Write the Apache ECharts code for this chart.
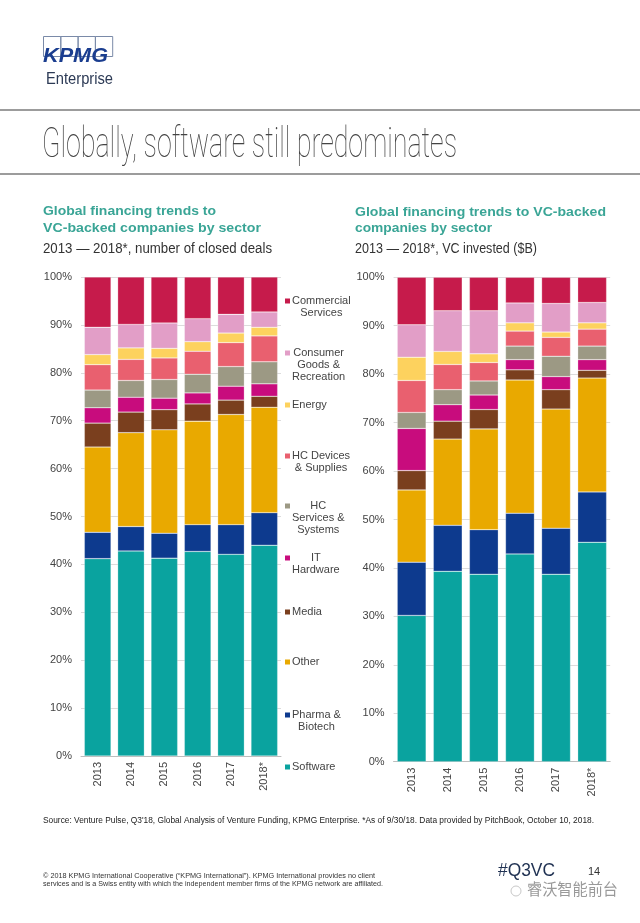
<!DOCTYPE html>
<html><head><meta charset="utf-8">
<script src="https://cdn.jsdelivr.net/npm/echarts@6/dist/echarts.min.js"></script>
<style>html,body{margin:0;padding:0;background:#fff}#c{width:640px;height:923px}</style>
</head><body><div id="c"></div>
<script>
// ---------- DATA ----------
const years = ['2013','2014','2015','2016','2017','2018*'];
const sectors = ['Software','Pharma & Biotech','Other','Media','IT Hardware','HC Services & Systems','HC Devices & Supplies','Energy','Consumer Goods & Recreation','Commercial Services'];
const legendLabels = ['Commercial\nServices','Consumer\nGoods &\nRecreation','Energy','HC Devices\n& Supplies','HC\nServices &\nSystems','IT\nHardware','Media','Other','Pharma &\nBiotech','Software'];
const yTicks = [0,10,20,30,40,50,60,70,80,90,100];
// Deals (% of closed deals), bottom to top
const dealsSoftware   = [41.2, 42.8, 41.3, 42.7, 42.1, 44.0];
const dealsPharma     = [5.5, 5.1, 5.2, 5.6, 6.2, 6.8];
const dealsOther      = [17.8, 19.6, 21.6, 21.6, 23.0, 22.0];
const dealsMedia      = [5.0, 4.3, 4.2, 3.6, 3.0, 2.3];
const dealsIT         = [3.2, 3.1, 2.4, 2.3, 2.9, 2.6];
const dealsHCS        = [3.7, 3.5, 3.9, 3.9, 4.1, 4.6];
const dealsHCD        = [5.3, 4.4, 4.5, 4.8, 5.0, 5.4];
const dealsEnergy     = [2.1, 2.4, 2.0, 2.0, 2.0, 1.8];
const dealsConsumer   = [5.7, 4.9, 5.3, 4.8, 3.9, 3.2];
const dealsCommercial = [10.5, 9.9, 9.6, 8.7, 7.8, 7.3];
// VC invested (% of $B), bottom to top
const vcSoftware   = [30.2, 39.3, 38.7, 42.9, 38.7, 45.3];
const vcPharma     = [11.0, 9.5, 9.2, 8.4, 9.5, 10.4];
const vcOther      = [14.9, 17.8, 20.8, 27.5, 24.6, 23.5];
const vcMedia      = [4.0, 3.7, 4.0, 2.1, 4.0, 1.6];
const vcIT         = [8.7, 3.4, 3.0, 2.1, 2.7, 2.2];
const vcHCS        = [3.3, 3.1, 2.9, 2.8, 4.2, 2.8];
const vcHCD        = [6.6, 5.2, 3.8, 3.1, 3.9, 3.5];
const vcEnergy     = [4.8, 2.7, 1.8, 1.7, 1.1, 1.3];
const vcConsumer   = [6.7, 8.4, 8.9, 4.1, 5.9, 4.2];
const vcCommercial = [9.8, 6.9, 6.9, 5.3, 5.4, 5.2];

// ---------- STYLE ----------
const colors = ['#0aa39f','#0d3a8e','#e9a900','#7a3f1e','#c80c7d','#9c9984','#e9606f','#fdd25e','#e29ec7','#c61b4b'];
const dealsSeries = [dealsSoftware,dealsPharma,dealsOther,dealsMedia,dealsIT,dealsHCS,dealsHCD,dealsEnergy,dealsConsumer,dealsCommercial];
const vcSeries = [vcSoftware,vcPharma,vcOther,vcMedia,vcIT,vcHCS,vcHCD,vcEnergy,vcConsumer,vcCommercial];

const cnv = document.createElement('canvas').getContext('2d');
function measure(text, font){ cnv.font = font; return cnv.measureText(text).width; }
function fitText(text, font, x, y, targetW, fill, extra){
  const w = measure(text, font);
  return Object.assign({type:'text', x:x, y:y, scaleX: targetW / w, silent:true,
    style:{text:text, font:font, fill:fill, align:'left', textAlign:'left', verticalAlign:'middle', textVerticalAlign:'middle'}}, extra||{});
}
function plain(text, font, x, y, fill, align){
  return {type:'text', x:x, y:y, silent:true,
    style:{text:text, font:font, fill:fill, align:align||'left', textAlign:align||'left', verticalAlign:'middle', textVerticalAlign:'middle'}};
}

const graphics = [];
// KPMG logo boxes
for (let i=0;i<4;i++){
  graphics.push({type:'rect', silent:true, shape:{x:43.5+i*17.3, y:36.5, width:17.3, height:20}, style:{fill:'none', stroke:'#7a8aa8', lineWidth:1}});
}
graphics.push(fitText('KPMG', 'italic bold 20px "Liberation Sans"', 43, 56.5, 65, '#1a3d8f'));
graphics.push(fitText('Enterprise', '16px "Liberation Sans"', 46, 80, 67, '#2c3a55'));
// rules
graphics.push({type:'line', silent:true, shape:{x1:0,y1:110,x2:640,y2:110}, style:{stroke:'#7b7b7b', lineWidth:1.5}});
graphics.push({type:'line', silent:true, shape:{x1:0,y1:174,x2:640,y2:174}, style:{stroke:'#7b7b7b', lineWidth:1.5}});
// title
graphics.push(fitText('Globally, software still predominates', '100 42px Roboto', 42, 146, 415, '#444'));
// subtitles
const subFont = 'bold 13.5px "Liberation Sans"';
graphics.push(fitText('Global financing trends to', subFont, 43, 211, 173, '#3aa596'));
graphics.push(fitText('VC-backed companies by sector', subFont, 43, 228, 218, '#3aa596'));
graphics.push(fitText('2013 \u2014 2018*, number of closed deals', '14px "Liberation Sans"', 43, 249, 229, '#333'));
graphics.push(fitText('Global financing trends to VC-backed', subFont, 355, 212, 251, '#3aa596'));
graphics.push(fitText('companies by sector', subFont, 355, 228, 137, '#3aa596'));
graphics.push(fitText('2013 \u2014 2018*, VC invested ($B)', '14px "Liberation Sans"', 355, 249, 182, '#333'));
// legend (custom, matches the stacked series colours)
const legendY = [301, 353, 405, 456, 506, 558, 612, 662, 715, 767];
const legFont = '11px "Liberation Sans"';
legendLabels.forEach((lab, i) => {
  const col = colors[colors.length-1-i];
  const lines = lab.split('\n');
  const bw = Math.max(...lines.map(l => measure(l, legFont)));
  graphics.push({type:'rect', silent:true, shape:{x:285, y:legendY[i]-2.5, width:5, height:5}, style:{fill:col}});
  graphics.push({type:'text', silent:true, x: 292 + bw/2, y: legendY[i]-6.5,
    style:{text:lab, font:legFont, fill:'#444', align:'center', textAlign:'center', verticalAlign:'top', textVerticalAlign:'top', lineHeight:12}});
});
// footer
graphics.push(fitText("Source: Venture Pulse, Q3'18, Global Analysis of Venture Funding, KPMG Enterprise. *As of 9/30/18. Data provided by PitchBook, October 10, 2018.", '8.5px "Liberation Sans"', 43, 821, 551, '#222'));
graphics.push(fitText('\u00a9 2018 KPMG International Cooperative (\u201cKPMG International\u201d). KPMG International provides no client', '6.5px "Liberation Sans"', 43, 876, 332, '#333'));
graphics.push(fitText('services and is a Swiss entity with which the independent member firms of the KPMG network are affiliated.', '6.5px "Liberation Sans"', 43, 884, 340, '#333'));
graphics.push(fitText('#Q3VC', '19px "Liberation Sans"', 498, 871, 57, '#1f3152'));
graphics.push(plain('14', '11px "Liberation Sans"', 588, 872, '#333'));
graphics.push(fitText('睿沃智能前台', '16px "Noto Sans CJK SC"', 527, 889, 91, '#9a9a9a'));
graphics.push({type:'circle', silent:true, shape:{cx:516, cy:891, r:5}, style:{fill:'none', stroke:'#c8c8c8', lineWidth:1}});

// ---------- CHART ----------
function yAxisCfg(gi){
  return {type:'value', gridIndex:gi, min:0, max:100, interval:10,
    axisLine:{show:false}, axisTick:{show:false},
    splitLine:{lineStyle:{color:'#dcdcdc', width:1}},
    axisLabel:{formatter:'{value}%', color:'#444', fontSize:11, fontFamily:'Liberation Sans', margin:9}};
}
function xAxisCfg(gi){
  return {type:'category', gridIndex:gi, data:years,
    axisLine:{lineStyle:{color:'#bdbdbd'}}, axisTick:{show:false},
    axisLabel:{rotate:90, color:'#444', fontSize:11, fontFamily:'Liberation Sans', margin:6}};
}
const series = [];
dealsSeries.forEach((d,i) => series.push({name:sectors[i], type:'bar', stack:'deals', xAxisIndex:0, yAxisIndex:0, data:d,
  barCategoryGap:'20%', itemStyle:{color:colors[i], borderColor:'rgba(255,255,255,0.5)', borderWidth:0.5}, silent:true}));
vcSeries.forEach((d,i) => series.push({name:sectors[i], type:'bar', stack:'vc', xAxisIndex:1, yAxisIndex:1, data:d,
  barCategoryGap:'20%', itemStyle:{color:colors[i], borderColor:'rgba(255,255,255,0.5)', borderWidth:0.5}, silent:true}));

const chart = echarts.init(document.getElementById('c'), null, {renderer:'canvas'});
chart.setOption({
  animation:false,
  backgroundColor:'#fff',
  grid:[
    {left:81, top:277, width:200, height:479},
    {left:393.6, top:277.3, width:216.6, height:484.4}
  ],
  xAxis:[xAxisCfg(0), xAxisCfg(1)],
  yAxis:[yAxisCfg(0), yAxisCfg(1)],
  series:series,
  graphic:graphics
});
</script></body></html>
